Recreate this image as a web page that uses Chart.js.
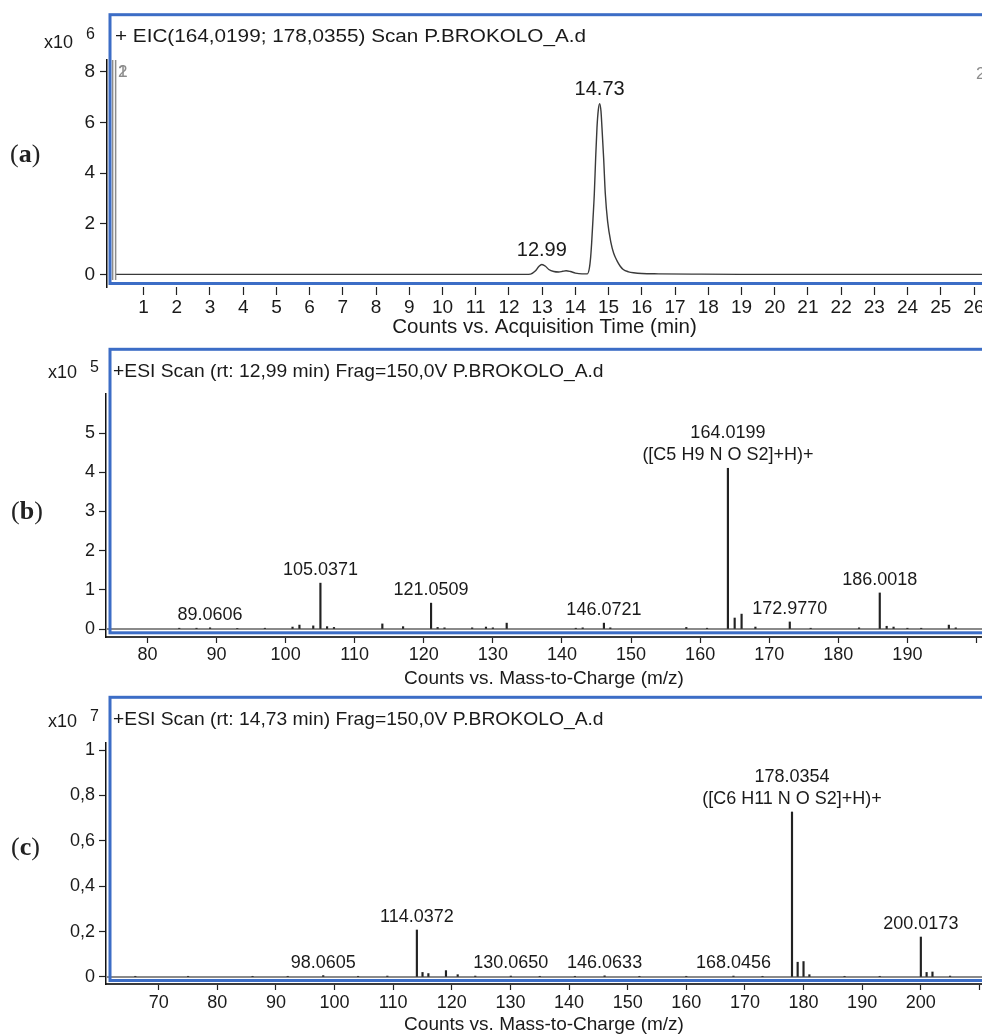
<!DOCTYPE html>
<html>
<head>
<meta charset="utf-8">
<title>EIC and ESI scans</title>
<script src="https://cdn.jsdelivr.net/npm/chart.js@4.4.1/dist/chart.umd.min.js"></script>
<style>
  body { margin: 0; background: #fff; }
  #page { position: relative; width: 982px; height: 1036px; overflow: hidden; }
  #page canvas { position: absolute; left: 0; }
  .tag { position: absolute; font-family: "Liberation Serif", "DejaVu Serif", serif; font-size: 26px; line-height: 26px; color: #222; }
</style>
</head>
<body>
<div id="page">
  <canvas id="eicChart" width="982" height="340" style="top:0"></canvas>
  <canvas id="scanB" width="982" height="350" style="top:340px"></canvas>
  <canvas id="scanC" width="982" height="346" style="top:690px"></canvas>
  <div class="tag" style="left:10px;top:141px">(<b>a</b>)</div>
  <div class="tag" style="left:11px;top:498px">(<b>b</b>)</div>
  <div class="tag" style="left:11px;top:834px">(<b>c</b>)</div>
</div>
<script>
// (a) extracted ion chromatogram, counts x10^6
const eicTime = [0.15, 1, 3, 5, 8, 10, 12, 12.5, 12.65, 12.8, 12.9, 12.99, 13.1, 13.2, 13.35, 13.5, 13.62, 13.72, 13.85,
  14.0, 14.2, 14.36, 14.42, 14.46, 14.49, 14.53, 14.57, 14.61, 14.65, 14.69, 14.73, 14.77, 14.80, 14.85, 14.90, 14.97,
  15.07, 15.15, 15.25, 15.35, 15.44, 15.6, 15.75, 16.0, 16.5, 17.5, 19, 21, 23, 25, 26.3];
const eicCounts = [0.01, 0.01, 0.01, 0.01, 0.01, 0.01, 0.01, 0.01, 0.02, 0.15, 0.32, 0.40, 0.33, 0.2, 0.12, 0.1, 0.13, 0.15, 0.12,
  0.06, 0.03, 0.03, 0.25, 0.7, 1.26, 2.2, 3.2, 4.6, 5.8, 6.5, 6.75, 6.45, 5.8, 4.6, 3.2, 2.1,
  1.26, 0.85, 0.55, 0.33, 0.2, 0.11, 0.07, 0.04, 0.03, 0.02, 0.01, 0.01, 0.01, 0.01, 0.01];
const eicPeakTimes = [12.99, 14.73];
const eicPeakCounts = [0.40, 6.75];
const eicMarkers = [0.07, 0.16];
const eicTicksX = [1, 2, 3, 4, 5, 6, 7, 8, 9, 10, 11, 12, 13, 14, 15, 16, 17, 18, 19, 20, 21, 22, 23, 24, 25, 26];
const eicTicksY = [0, 2, 4, 6, 8];

// (b) ESI scan at 12.99 min, counts x10^5
const bMz = [84.6, 87.1, 89.0606, 93.0, 97.0, 101.0, 102.0, 104.0, 105.0371, 106.0, 107.0, 114.0, 117.0, 121.0509, 122.0,
  123.0, 127.0, 129.0, 130.0, 132.0, 142.0, 143.0, 146.0721, 147.0, 158.0, 161.0, 164.0199, 165.0, 166.0, 168.0,
  172.9770, 176.0, 183.0, 186.0018, 187.0, 188.0, 190.0, 192.0, 196.0, 197.0];
const bInt = [0.02, 0.02, 0.03, 0.01, 0.02, 0.05, 0.1, 0.08, 1.17, 0.06, 0.04, 0.13, 0.06, 0.66, 0.04,
  0.03, 0.03, 0.05, 0.03, 0.15, 0.02, 0.03, 0.15, 0.03, 0.04, 0.02, 4.1, 0.28, 0.38, 0.05,
  0.18, 0.02, 0.03, 0.92, 0.07, 0.05, 0.02, 0.02, 0.1, 0.03];
const bLabelMz = [89.0606, 105.0371, 121.0509, 146.0721, 164.0199, 172.9770, 186.0018];
const bFormulaMz = 164.0199;
const bFormula = '([C5 H9 N O S2]+H)+';
const bTicksX = [80, 90, 100, 110, 120, 130, 140, 150, 160, 170, 180, 190, 200];
const bLabelsX = ['80', '90', '100', '110', '120', '130', '140', '150', '160', '170', '180', '190', ''];
const bTicksY = [0, 1, 2, 3, 4, 5];

// (c) ESI scan at 14.73 min, counts x10^7
const cMz = [66.0, 75.0, 86.0, 92.0, 98.0605, 104.0, 109.0, 114.0372, 115.0, 116.0, 119.0, 121.0, 124.0, 130.0650, 135.0,
  141.0, 146.0633, 152.0, 160.0, 168.0456, 173.0, 178.0354, 179.0, 180.0, 181.0, 187.0, 193.0, 200.0173, 201.0, 202.0, 205.0];
const cInt = [0.003, 0.003, 0.003, 0.003, 0.006, 0.003, 0.004, 0.207, 0.02, 0.015, 0.028, 0.01, 0.004, 0.004, 0.003,
  0.003, 0.005, 0.003, 0.003, 0.004, 0.003, 0.727, 0.065, 0.068, 0.01, 0.003, 0.003, 0.176, 0.02, 0.022, 0.004];
const cLabelMz = [98.0605, 114.0372, 130.0650, 146.0633, 168.0456, 178.0354, 200.0173];
const cFormulaMz = 178.0354;
const cFormula = '([C6 H11 N O S2]+H)+';
const cTicksX = [70, 80, 90, 100, 110, 120, 130, 140, 150, 160, 170, 180, 190, 200, 210];
const cLabelsX = ['70', '80', '90', '100', '110', '120', '130', '140', '150', '160', '170', '180', '190', '200', ''];
const cTicksY = [0, 0.2, 0.4, 0.6, 0.8, 1];
const cLabelsY = ['0', '0,2', '0,4', '0,6', '0,8', '1'];

const FONT = '"Liberation Sans", Arial, sans-serif';
const INK = '#1a1a1a';
const FRAME = '#3c6dc6';
Chart.defaults.font.family = FONT;
Chart.defaults.color = INK;
Chart.defaults.animation = false;

// frame, header, exponent and peak labels drawn over each panel
const panelDecor = {
  id: 'panelDecor',
  afterDraw(chart, args, o) {
    const { ctx, chartArea } = chart;
    const x = chart.scales.x, y = chart.scales.y;
    ctx.save();

    if (o.markers) {
      ctx.strokeStyle = '#8c8c8c';
      ctx.lineWidth = 1.5;
      o.markers.forEach(t => {
        const px = x.getPixelForValue(t);
        ctx.beginPath();
        ctx.moveTo(px, chartArea.top);
        ctx.lineTo(px, chartArea.bottom - 7);
        ctx.stroke();
      });
      ctx.fillStyle = '#8c8c8c';
      ctx.font = '17px ' + FONT;
      ctx.textBaseline = 'middle';
      ctx.textAlign = 'left';
      ctx.fillText('1', 118, 72);
      ctx.fillText('2', 118, 72);
      ctx.fillText('2', 976, 74);
    }

    ctx.strokeStyle = FRAME;
    ctx.lineWidth = 3;
    ctx.strokeRect(o.frame[0], o.frame[1], chart.width + 20 - o.frame[0], o.frame[2] - o.frame[1]);

    // header text, slightly widened like the instrument export
    ctx.fillStyle = INK;
    ctx.textBaseline = 'middle';
    ctx.textAlign = 'left';
    ctx.font = o.titleSize + 'px ' + FONT;
    ctx.save();
    ctx.translate(o.titleX, o.titleY);
    ctx.scale(o.titleStretch, 1);
    ctx.fillText(o.title, 0, 0);
    ctx.restore();

    ctx.font = '18px ' + FONT;
    ctx.fillText('x10', o.expX, o.expY);
    ctx.font = '16px ' + FONT;
    ctx.fillText(o.exp, o.expX + 42, o.expY - o.expRaise);

    ctx.textAlign = 'center';
    ctx.font = o.labelSize + 'px ' + FONT;
    o.peaks.forEach(p => {
      const px = x.getPixelForValue(p.x);
      const py = y.getPixelForValue(p.y);
      p.text.forEach((t, i) => {
        ctx.fillText(t, px, py - o.gap - (p.text.length - 1 - i) * 22);
      });
    });
    ctx.restore();
  }
};

function xAxis(o) {
  return {
    type: 'linear', min: o.min, max: o.max, offset: false,
    afterBuildTicks: s => { s.ticks = o.ticks.map(v => ({ value: v })); },
    afterFit: s => { s.height = o.height; s.paddingLeft = 0; s.paddingRight = 0; },
    grid: { drawOnChartArea: false, offset: false, tickLength: o.tickLength, tickColor: '#222', tickWidth: 1.2 },
    border: { display: o.border, color: '#3a3a3a', width: 2 },
    ticks: {
      autoSkip: false, maxRotation: 0, padding: o.pad, color: INK, font: { size: o.tickSize },
      callback: (v, i) => o.labels ? o.labels[i] : String(o.ticks[i])
    },
    title: { display: true, text: o.title, color: INK, font: { size: o.titleSize }, padding: { top: 0, bottom: 0 } }
  };
}

function yAxis(o) {
  return {
    type: 'linear', min: o.min, max: o.max,
    afterBuildTicks: s => { s.ticks = o.ticks.map(v => ({ value: v })); },
    afterFit: s => { s.width = o.width; s.paddingTop = 0; s.paddingBottom = 0; },
    grid: { drawOnChartArea: false, tickLength: 7, tickColor: '#222', tickWidth: 1.2 },
    border: { display: true, color: '#111', width: 1.5 },
    ticks: {
      padding: o.pad, color: INK, font: { size: o.tickSize },
      callback: (v, i) => o.labels ? o.labels[i] : String(o.ticks[i])
    }
  };
}

function stickPeaks(mz, inten, labelMz, formulaMz, formula) {
  return labelMz.map(m => {
    const text = [m.toFixed(4)];
    if (m === formulaMz) text.push(formula);
    return { x: m, y: inten[mz.indexOf(m)], text };
  });
}

// (a)
new Chart(document.getElementById('eicChart'), {
  type: 'line',
  data: {
    datasets: [{
      data: eicTime.map((t, i) => ({ x: t, y: eicCounts[i] })),
      borderColor: '#3a3a3a', borderWidth: 1.4, pointRadius: 0,
      cubicInterpolationMode: 'monotone'
    }]
  },
  options: {
    responsive: false, devicePixelRatio: 1,
    layout: { padding: { top: 60, left: 0, right: 0, bottom: 0 } },
    plugins: {
      legend: { display: false }, tooltip: { enabled: false },
      panelDecor: {
        frame: [110, 14.7, 283.5],
        title: '+ EIC(164,0199; 178,0355) Scan P.BROKOLO_A.d', titleSize: 19, titleStretch: 1.09, titleX: 115, titleY: 37,
        exp: '6', expX: 44, expY: 43, expRaise: 8,
        labelSize: 20, gap: 14,
        markers: eicMarkers,
        peaks: eicPeakTimes.map((t, i) => ({ x: t, y: eicPeakCounts[i], text: [t.toFixed(2)] }))
      }
    },
    scales: {
      x: xAxis({ min: -0.1, max: 26.24, ticks: eicTicksX, height: 53, tickLength: 8, pad: 1, border: false,
        tickSize: 19, title: 'Counts vs. Acquisition Time (min)', titleSize: 20.5 }),
      y: yAxis({ min: -0.49, max: 8.47, ticks: eicTicksY, width: 107, pad: 5, tickSize: 19 })
    }
  },
  plugins: [panelDecor]
});

// (b) and (c)
function scanChart(id, o) {
  return new Chart(document.getElementById(id), {
    type: 'bar',
    data: {
      datasets: [
        {
          type: 'bar', order: 1,
          data: o.mz.map((m, i) => ({ x: m, y: o.inten[i] })),
          backgroundColor: '#222', borderWidth: 0, barThickness: 1.5
        },
        {
          type: 'line', order: 2,
          data: [{ x: o.xMin, y: 0 }, { x: o.xMax, y: 0 }],
          borderColor: '#8a8a8a', borderWidth: 2, pointRadius: 0
        }
      ]
    },
    options: {
      responsive: false, devicePixelRatio: 1,
      layout: { padding: { top: o.top, left: 0, right: 0, bottom: 0 } },
      plugins: {
        legend: { display: false }, tooltip: { enabled: false },
        panelDecor: {
          frame: o.frame,
          title: o.title, titleSize: 19, titleStretch: 1.015, titleX: 113, titleY: o.titleY,
          exp: o.exp, expX: 48, expY: o.expY, expRaise: 5,
          labelSize: 18, gap: 13,
          peaks: o.peaks
        }
      },
      scales: {
        x: xAxis({ min: o.xMin, max: o.xMax, ticks: o.ticksX, labels: o.labelsX, height: o.xHeight, tickLength: 6,
          pad: o.xPad, border: true, tickSize: 18, title: 'Counts vs. Mass-to-Charge (m/z)', titleSize: 19 }),
        y: yAxis({ min: o.yMin, max: o.yMax, ticks: o.ticksY, labels: o.labelsY, width: 106, pad: 4, tickSize: 18 })
      }
    },
    plugins: [panelDecor]
  });
}

scanChart('scanB', {
  mz: bMz, inten: bInt, xMin: 74.0, xMax: 200.8, yMin: -0.204, yMax: 5.995,
  ticksX: bTicksX, labelsX: bLabelsX, ticksY: bTicksY,
  top: 54, xHeight: 53, xPad: 1,
  frame: [110, 9.3, 292.8],
  title: '+ESI Scan (rt: 12,99 min) Frag=150,0V P.BROKOLO_A.d', titleY: 32,
  exp: '5', expY: 33,
  peaks: stickPeaks(bMz, bInt, bLabelMz, bFormulaMz, bFormula)
});

scanChart('scanC', {
  mz: cMz, inten: cInt, xMin: 61.0, xMax: 210.45, yMin: -0.031, yMax: 1.031,
  ticksX: cTicksX, labelsX: cLabelsX, ticksY: cTicksY, labelsY: cLabelsY,
  top: 53, xHeight: 52, xPad: 2,
  frame: [110, 7.3, 290.5],
  title: '+ESI Scan (rt: 14,73 min) Frag=150,0V P.BROKOLO_A.d', titleY: 30,
  exp: '7', expY: 32,
  peaks: stickPeaks(cMz, cInt, cLabelMz, cFormulaMz, cFormula)
});
</script>
</body>
</html>
